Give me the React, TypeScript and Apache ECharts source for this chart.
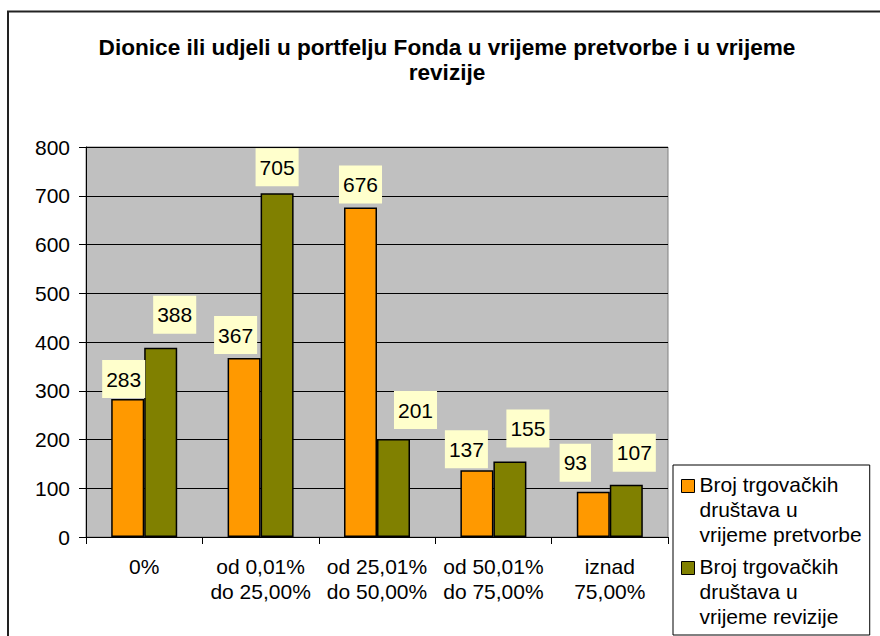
import React, { useEffect, useRef } from "react";
import * as echarts from "echarts";

const categories = [
  "0%",
  "od 0,01%\ndo 25,00%",
  "od 25,01%\ndo 50,00%",
  "od 50,01%\ndo 75,00%",
  "iznad\n75,00%",
];
const seriesNames = [
  "Broj trgovačkih društava u vrijeme pretvorbe",
  "Broj trgovačkih društava u vrijeme revizije",
];
const legendLines: Record<string, string> = {
  "Broj trgovačkih društava u vrijeme pretvorbe": "Broj trgovačkih\ndruštava u\nvrijeme pretvorbe",
  "Broj trgovačkih društava u vrijeme revizije": "Broj trgovačkih\ndruštava u\nvrijeme revizije",
};
const pretvorbe = [283, 367, 676, 137, 93];
const revizije = [388, 705, 201, 155, 107];
const yTicks = { min: 0, max: 800, interval: 100 };

// label nudges (style only)
const nudgePretvorbe = [[-4, -1], [-8.5, -4], [0, -4], [-10.5, -2], [-18, -10]];
const nudgeRevizije = [[14, -14], [0, -7], [22, -10], [18, -14], [8, -13]];

const FONT = '"Liberation Sans", Arial, sans-serif';

function items(values: number[], nudges: number[][]) {
  return values.map((v, i) => ({ value: v, label: { offset: nudges[i] } }));
}

export default function App() {
  const ref = useRef<HTMLDivElement>(null);
  useEffect(() => {
    if (!ref.current) return;
    const chart = echarts.init(ref.current, null, { renderer: "svg" });
    const labelStyle = {
      show: true,
      position: "top",
      distance: 0,
      color: "#000",
      fontSize: 21,
      fontFamily: FONT,
      lineHeight: 24,
      backgroundColor: "#FFFFCC",
      padding: [7, 4],
    };
    chart.setOption({
      animation: false,
      backgroundColor: "#fff",
      textStyle: { fontFamily: FONT },
      title: {
        text: "Dionice ili udjeli u portfelju Fonda u vrijeme pretvorbe i u vrijeme\nrevizije",
        left: 442,
        top: 30,
        textAlign: "center",
        textStyle: {
          fontSize: 22.6,
          fontWeight: "bold",
          color: "#000",
          fontFamily: FONT,
          lineHeight: 25,
          align: "center",
        },
      },
      graphic: [
        {
          type: "rect",
          z: -10,
          shape: { x: 8, y: 11.5, width: 1000, height: 1000 },
          style: { fill: "none", stroke: "#222", lineWidth: 2 },
          silent: true,
        },
      ],
      legend: {
        orient: "vertical",
        left: 673,
        top: 465,
        padding: [6, 8, 6, 8],
        itemGap: 6,
        itemWidth: 13,
        itemHeight: 75,
        icon: "path://M0,8H13V21H0Z M0,0Z M0,75Z",
        itemStyle: { borderColor: "#000", borderWidth: 1 },
        borderColor: "#000",
        borderWidth: 1,
        backgroundColor: "#fff",
        formatter: (name: string) => legendLines[name] || name,
        textStyle: { fontSize: 21, lineHeight: 25, color: "#000", fontFamily: FONT },
        data: seriesNames,
      },
      grid: {
        left: 86,
        right: 212,
        top: 147,
        bottom: 99,
        show: true,
        backgroundColor: "#C0C0C0",
        borderColor: "#808080",
        borderWidth: 1,
      },
      xAxis: {
        type: "category",
        data: categories,
        axisLine: { show: true, lineStyle: { color: "#000", width: 1 } },
        axisTick: { show: true, length: 7, alignWithLabel: false, lineStyle: { color: "#000" } },
        axisLabel: {
          interval: 0,
          color: "#000",
          fontSize: 21,
          lineHeight: 25,
          margin: 17,
          fontFamily: FONT,
        },
        splitLine: { show: false },
      },
      yAxis: {
        type: "value",
        min: yTicks.min,
        max: yTicks.max,
        interval: yTicks.interval,
        axisLine: { show: true, lineStyle: { color: "#000", width: 1 } },
        axisTick: { show: true, length: 7, lineStyle: { color: "#000" } },
        axisLabel: { color: "#000", fontSize: 21, margin: 16, fontFamily: FONT },
        splitLine: { show: true, lineStyle: { color: "#000", width: 1 } },
      },
      series: [
        {
          name: seriesNames[0],
          type: "bar",
          data: items(pretvorbe, nudgePretvorbe),
          barWidth: 33,
          barGap: "0%",
          itemStyle: { color: "#FF9900", borderColor: "#000", borderWidth: 1.5 },
          label: labelStyle,
        },
        {
          name: seriesNames[1],
          type: "bar",
          data: items(revizije, nudgeRevizije),
          barWidth: 33,
          barGap: "0%",
          itemStyle: { color: "#808000", borderColor: "#000", borderWidth: 1.5 },
          label: labelStyle,
        },
      ],
    });
    return () => chart.dispose();
  }, []);
  return (
    <div
      ref={ref}
      style={{ position: "fixed", left: 0, top: 0, width: 880, height: 636 }}
    />
  );
}
